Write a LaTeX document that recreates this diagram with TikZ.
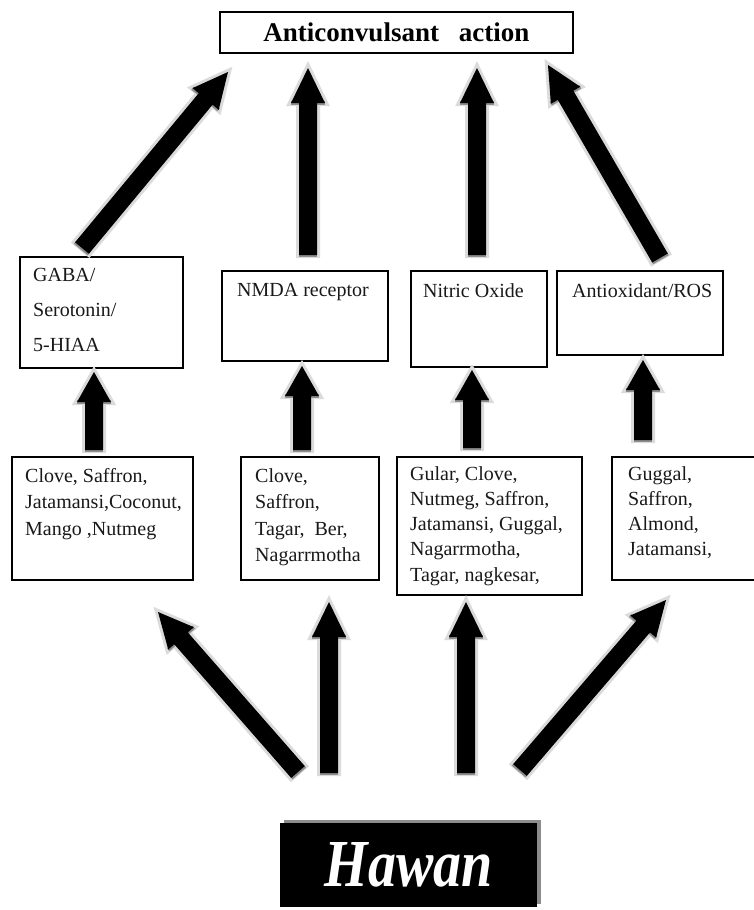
\documentclass[tikz,border=0pt]{standalone}
\usepackage{fontspec}
\setmainfont{Liberation Serif}
\usepackage{graphicx}
\usetikzlibrary{calc}
\tikzset{
  box/.style={draw=black, line width=1.6pt, fill=white, rectangle, inner sep=0pt},
  txt/.style={anchor=north west, inner sep=0pt, align=left, text=black!90},
  arrline/.style={draw=black!14, line width=6pt, line join=miter},
  arrtick/.style={draw=black!45, line width=4pt},
  arrfill/.style={fill=black},
}
\newcommand\blockarr[3][35pt]{%
  \coordinate (hb) at ($(#3)!#1!(#2)$);
  \coordinate (q1) at ($(#2)!9pt!90:(#3)$);
  \coordinate (q2) at ($(hb)!9pt!-90:(#2)$);
  \coordinate (q3) at ($(hb)!17pt!-90:(#2)$);
  \coordinate (q5) at ($(hb)!17pt!90:(#2)$);
  \coordinate (q6) at ($(hb)!9pt!90:(#2)$);
  \coordinate (q7) at ($(#2)!9pt!-90:(#3)$);
  \draw[arrline] (q1) -- (q2) -- (q3) -- (#3) -- (q5) -- (q6) -- (q7) -- cycle;
  \draw[arrtick] (q2) -- (q3) (q5) -- (q6) (q7) -- (q1);
  \fill[arrfill] (q1) -- (q2) -- (q3) -- (#3) -- (q5) -- (q6) -- (q7) -- cycle;
}
\begin{document}
\begin{tikzpicture}[x=1pt,y=-1pt]
\useasboundingbox[fill=white] (0,0) rectangle (753,910);

% boxes
\node[box, minimum width=353pt, minimum height=41pt, font=\fontsize{27}{30}\selectfont\bfseries] (top) at (396.5,32.5) {Anticonvulsant\hspace{20pt}action};
\node[box, minimum width=163pt, minimum height=111pt] (gaba) at (101.5,312.5) {};
\node[box, minimum width=166pt, minimum height=90pt] (nmda) at (305,316) {};
\node[box, minimum width=136pt, minimum height=96pt] (nitric) at (479,319) {};
\node[box, minimum width=166pt, minimum height=84pt] (antiox) at (640,313) {};
\node[box, minimum width=181pt, minimum height=123pt] (b1) at (102.5,518.5) {};
\node[box, minimum width=138pt, minimum height=123pt] (b2) at (310,518.5) {};
\node[box, minimum width=185pt, minimum height=138pt] (b3) at (489.5,526) {};
\node[box, minimum width=158pt, minimum height=123pt] (b4) at (691,518.5) {};

% texts
\node[txt, font=\fontsize{20}{35}\selectfont] (tgaba) at (33,268) {GABA/\\Serotonin/\\5-HIAA};
\node[txt, font=\fontsize{20}{26}\selectfont] (tnmda) at (237,283) {NMDA receptor};
\node[txt, font=\fontsize{20}{26}\selectfont] (tnitric) at (423,283) {Nitric Oxide};
\node[txt, font=\fontsize{20}{26}\selectfont] (tantiox) at (572,283) {Antioxidant/ROS};
\node[txt, font=\fontsize{20}{26.5}\selectfont] (tb1) at (25,468) {Clove, Saffron,\\Jatamansi,Coconut,\\Mango ,Nutmeg};
\node[txt, font=\fontsize{20}{26.5}\selectfont] (tb2) at (255,468) {Clove,\\Saffron,\\Tagar,\ \ Ber,\\Nagarrmotha};
\node[txt, font=\fontsize{20}{25.3}\selectfont] (tb3) at (410,466) {Gular, Clove,\\Nutmeg, Saffron,\\Jatamansi, Guggal,\\Nagarrmotha,\\Tagar, nagkesar,};
\node[txt, font=\fontsize{20}{25.3}\selectfont] (tb4) at (628,466) {Guggal,\\Saffron,\\Almond,\\Jatamansi,};

% Hawan
\fill[black!45] (284,820) rectangle (541,904);
\node[fill=black, inner sep=0pt, minimum width=257pt, minimum height=84pt, text=white, font=\fontsize{56}{60}\selectfont\bfseries\itshape] (hawan) at (408.5,865) {\scalebox{1}[1.2]{Hawan}};

% arrow end points
\coordinate (a1s) at (82,248);  \coordinate (a1e) at (228,72);
\coordinate (a2s) at (308,255); \coordinate (a2e) at (308,68);
\coordinate (a3s) at (477,255); \coordinate (a3e) at (477,68);
\coordinate (a4s) at (660,258); \coordinate (a4e) at (548,65);
\coordinate (m1s) at (94,450);  \coordinate (m1e) at (94,372);
\coordinate (m2s) at (302,450); \coordinate (m2e) at (302,366);
\coordinate (m3s) at (472,448); \coordinate (m3e) at (472,370);
\coordinate (m4s) at (643,440); \coordinate (m4e) at (643,360);
\coordinate (c1s) at (298,772); \coordinate (c1e) at (158,612);
\coordinate (c2s) at (329,773); \coordinate (c2e) at (329,602);
\coordinate (c3s) at (466,773); \coordinate (c3e) at (466,602);
\coordinate (c4s) at (520,770); \coordinate (c4e) at (666,600);

\blockarr{a1s}{a1e}
\blockarr{a2s}{a2e}
\blockarr{a3s}{a3e}
\blockarr{a4s}{a4e}
\blockarr[30pt]{m1s}{m1e}
\blockarr[30pt]{m2s}{m2e}
\blockarr[30pt]{m3s}{m3e}
\blockarr[30pt]{m4s}{m4e}
\blockarr{c1s}{c1e}
\blockarr{c2s}{c2e}
\blockarr{c3s}{c3e}
\blockarr{c4s}{c4e}
\end{tikzpicture}
\end{document}
